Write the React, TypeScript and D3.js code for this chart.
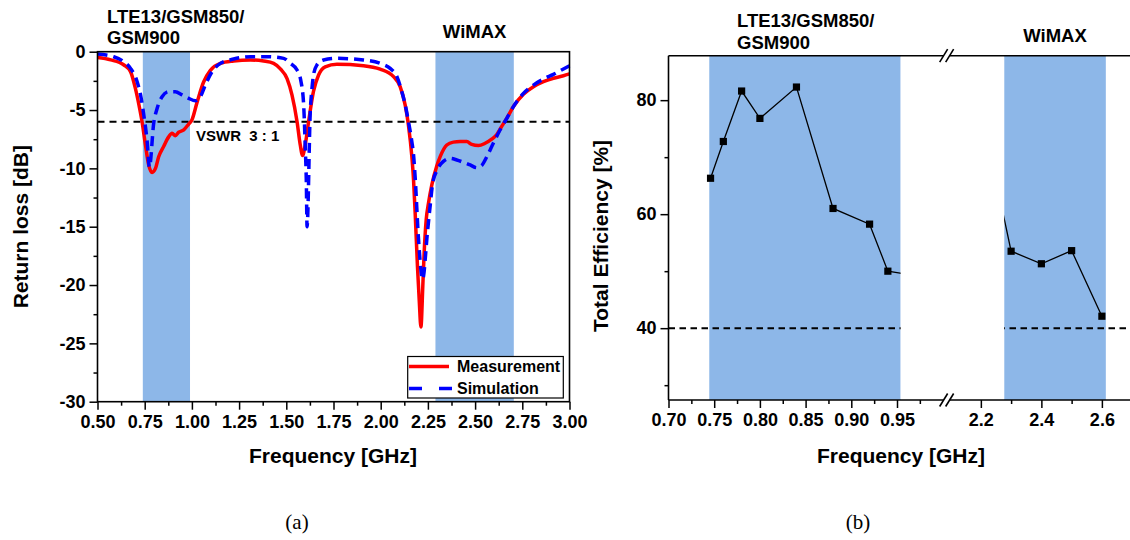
import React, { useRef, useEffect } from 'react';
import * as d3 from 'd3';

// (a) return loss, measured and simulated
const measFreq = [0.5, 0.57, 0.64, 0.675, 0.7, 0.72, 0.736, 0.754, 0.771, 0.789, 0.807, 0.824, 0.851, 0.877, 0.895, 0.912, 0.93, 0.957, 0.983, 1.0, 1.028, 1.062, 1.098, 1.151, 1.221, 1.31, 1.38, 1.433, 1.47, 1.504, 1.53, 1.557, 1.574, 1.586, 1.6, 1.618, 1.644, 1.671, 1.706, 1.768, 1.909, 1.997, 2.068, 2.103, 2.13, 2.147, 2.165, 2.174, 2.183, 2.195, 2.205, 2.213, 2.223, 2.23, 2.241, 2.253, 2.271, 2.297, 2.315, 2.35, 2.385, 2.421, 2.456, 2.482, 2.518, 2.553, 2.588, 2.615, 2.641, 2.668, 2.703, 2.756, 2.809, 2.862, 2.915, 2.968, 3.0];
const measDb = [-0.5, -0.7, -1.14, -1.71, -3.1, -4.6, -6.0, -8.0, -9.7, -10.35, -10.0, -9.0, -8.1, -7.3, -7.0, -7.2, -6.9, -6.7, -6.2, -5.85, -4.3, -2.6, -1.6, -1.0, -0.8, -0.71, -0.8, -1.0, -1.5, -2.3, -3.7, -6.0, -8.0, -8.9, -8.0, -6.0, -3.4, -2.0, -1.3, -1.08, -1.2, -1.5, -2.14, -3.0, -4.6, -6.3, -9.0, -11.0, -14.0, -18.5, -21.6, -23.6, -20.1, -17.3, -14.4, -13.0, -11.4, -9.8, -9.0, -8.0, -7.75, -7.7, -7.7, -7.95, -8.05, -7.85, -7.5, -7.1, -6.4, -5.7, -4.7, -3.65, -3.0, -2.57, -2.28, -2.06, -1.9];

const simFreq = [0.5, 0.586, 0.639, 0.675, 0.71, 0.728, 0.745, 0.763, 0.775, 0.798, 0.816, 0.842, 0.877, 0.912, 0.948, 0.983, 1.019, 1.045, 1.071, 1.107, 1.151, 1.221, 1.31, 1.398, 1.486, 1.521, 1.557, 1.578, 1.592, 1.6, 1.606, 1.61, 1.627, 1.636, 1.644, 1.662, 1.697, 1.768, 1.909, 1.997, 2.05, 2.086, 2.112, 2.13, 2.147, 2.165, 2.174, 2.183, 2.2, 2.222, 2.248, 2.262, 2.275, 2.297, 2.332, 2.368, 2.403, 2.438, 2.474, 2.509, 2.535, 2.562, 2.597, 2.632, 2.668, 2.703, 2.756, 2.809, 2.862, 2.915, 2.968, 3.0];
const simDb = [-0.2, -0.43, -0.86, -1.43, -2.57, -3.7, -5.4, -7.7, -9.9, -6.1, -4.85, -3.86, -3.43, -3.43, -3.7, -4.0, -4.2, -3.86, -2.86, -1.71, -1.0, -0.63, -0.43, -0.43, -0.57, -1.0, -1.57, -2.57, -4.57, -8.0, -11.1, -15.0, -5.14, -3.14, -2.0, -1.14, -0.71, -0.57, -0.71, -1.0, -1.43, -2.14, -3.43, -4.57, -6.0, -7.71, -8.85, -10.9, -16.0, -19.5, -15.4, -13.2, -11.3, -10.2, -9.4, -9.15, -9.28, -9.48, -9.71, -9.94, -9.75, -9.0, -7.83, -6.71, -5.71, -4.71, -3.57, -2.86, -2.34, -1.94, -1.48, -1.2];

const rlBands = [[0.74, 0.99], [2.29, 2.705]];
const vswrDb = -6;
const rlTicks = [0, -5, -10, -15, -20, -25, -30];
const rlMinor = [-2.5, -7.5, -12.5, -17.5, -22.5, -27.5];
const freqTicksA = [0.5, 0.75, 1.0, 1.25, 1.5, 1.75, 2.0, 2.25, 2.5, 2.75, 3.0];
const freqMinorA = [0.625, 0.875, 1.125, 1.375, 1.625, 1.875, 2.125, 2.375, 2.625, 2.875];

// (b) total efficiency (0.96 and 2.25 lie under the axis break)
const effFreq = [0.746, 0.76, 0.78, 0.8, 0.84, 0.88, 0.92, 0.94, 0.96, 2.25, 2.3, 2.4, 2.5, 2.6];
const effVal = [66.3, 72.75, 81.6, 76.8, 82.3, 61.0, 58.25, 50.0, 49.5, 66.0, 53.5, 51.3, 53.6, 42.1];
const effBands = [[0.7446, 0.954], [2.277, 2.613]];
const effLimit = 40;
const effTicks = [40, 60, 80];
const effMinor = [30, 50, 70];
const lowTicks = [0.7, 0.75, 0.8, 0.85, 0.9, 0.95];
const lowMinor = [0.725, 0.775, 0.825, 0.875, 0.925, 0.975];
const highTicks = [2.2, 2.4, 2.6];
const highMinor = [2.3, 2.5];

const FONT = '"Liberation Sans", Arial, sans-serif';
const BAND = '#8db7e8';

const styleAxis = (g, size) => {
  g.attr('font-family', FONT).attr('font-size', size).attr('font-weight', 'bold');
  g.selectAll('.domain').remove();
  g.selectAll('line').attr('stroke', '#000').attr('stroke-width', 1.5);
  g.selectAll('text').attr('fill', '#000');
};

const drawReturnLoss = (g) => {
  const x = d3.scaleLinear().domain([0.5, 3]).range([97.5, 569.5]);
  const y = d3.scaleLinear().domain([-30, 0]).range([401.7, 51.7]);

  rlBands.forEach(b => {
    g.append('rect')
      .attr('x', x(b[0])).attr('y', y(0))
      .attr('width', x(b[1]) - x(b[0])).attr('height', y(-30) - y(0))
      .attr('fill', BAND);
  });

  g.append('line')
    .attr('x1', x(0.5)).attr('x2', x(3))
    .attr('y1', y(vswrDb)).attr('y2', y(vswrDb))
    .attr('stroke', '#000').attr('stroke-width', 2).attr('stroke-dasharray', '7,5');

  const meas = measFreq.map((f, i) => [f, measDb[i]]);
  const sim = simFreq.map((f, i) => [f, simDb[i]]);
  const line = d3.line().x(d => x(d[0])).y(d => y(d[1])).curve(d3.curveMonotoneX);

  g.append('path').attr('d', line(meas)).attr('fill', 'none')
    .attr('stroke', '#ff0000').attr('stroke-width', 3.5).attr('stroke-linejoin', 'round');
  g.append('path').attr('d', line(sim)).attr('fill', 'none')
    .attr('stroke', '#0000ff').attr('stroke-width', 3.5).attr('stroke-dasharray', '10,6');

  // frame
  g.append('rect')
    .attr('x', x(0.5)).attr('y', y(0))
    .attr('width', x(3) - x(0.5)).attr('height', y(-30) - y(0))
    .attr('fill', 'none').attr('stroke', '#000').attr('stroke-width', 1.6);

  const xAxis = g.append('g').attr('transform', `translate(0,${y(-30)})`)
    .call(d3.axisBottom(x).tickValues(freqTicksA).tickSize(8).tickPadding(5.5).tickFormat(d3.format('.2f')));
  styleAxis(xAxis, 18);
  const xMinor = g.append('g').attr('transform', `translate(0,${y(-30)})`)
    .call(d3.axisBottom(x).tickValues(freqMinorA).tickSize(4).tickFormat(() => ''));
  styleAxis(xMinor, 18);

  const yAxis = g.append('g').attr('transform', `translate(${x(0.5)},0)`)
    .call(d3.axisLeft(y).tickValues(rlTicks).tickSize(8).tickPadding(4).tickFormat(d => String(d)));
  styleAxis(yAxis, 18);
  const yMinor = g.append('g').attr('transform', `translate(${x(0.5)},0)`)
    .call(d3.axisLeft(y).tickValues(rlMinor).tickSize(4).tickFormat(() => ''));
  styleAxis(yMinor, 18);

  // legend
  const lg = g.append('g');
  lg.append('rect').attr('x', 407.7).attr('y', 356.5).attr('width', 155.6).attr('height', 41.5)
    .attr('fill', '#fff').attr('stroke', '#000').attr('stroke-width', 1.2);
  lg.append('line').attr('x1', 409).attr('x2', 449).attr('y1', 366.5).attr('y2', 366.5)
    .attr('stroke', '#ff0000').attr('stroke-width', 3.5);
  lg.append('line').attr('x1', 409).attr('x2', 452).attr('y1', 388.5).attr('y2', 388.5)
    .attr('stroke', '#0000ff').attr('stroke-width', 3.5).attr('stroke-dasharray', '13,17');
  lg.append('text').attr('x', 457).attr('y', 372).text('Measurement');
  lg.append('text').attr('x', 457).attr('y', 393.5).text('Simulation');
  lg.selectAll('text').attr('font-family', FONT).attr('font-size', 16).attr('font-weight', 'bold');

  const txt = g.append('g').attr('font-family', FONT).attr('font-weight', 'bold').attr('fill', '#000');
  txt.append('text').attr('x', 196).attr('y', 140.7).attr('font-size', 15)
    .style('white-space', 'pre').text('VSWR  3 : 1');
  txt.append('text').attr('x', 107).attr('y', 22.7).attr('font-size', 18.5).text('LTE13/GSM850/');
  txt.append('text').attr('x', 107).attr('y', 44.3).attr('font-size', 18.5).text('GSM900');
  txt.append('text').attr('x', (x(rlBands[1][0]) + x(rlBands[1][1])) / 2).attr('y', 38.3)
    .attr('font-size', 18.5).attr('text-anchor', 'middle').text('WiMAX');
  txt.append('text').attr('x', (x(0.5) + x(3)) / 2 - 0.5).attr('y', 463.3).attr('font-size', 21)
    .attr('text-anchor', 'middle').text('Frequency [GHz]');
  txt.append('text').attr('transform', `translate(21,${(y(0) + y(-30)) / 2}) rotate(-90)`)
    .attr('dy', '0.35em').attr('font-size', 21).attr('text-anchor', 'middle').text('Return loss [dB]');
};

const drawEfficiency = (g) => {
  const xLow = d3.scaleLinear().domain([0.7, 1.0]).range([668.5, 942.7]);
  const xHigh = d3.scaleLinear().domain([2.1, 2.8]).range([950.6, 1162.4]);
  const xb = f => (f < 1.5 ? xLow(f) : xHigh(f));
  const y = d3.scaleLinear().domain([27.4, 87.8]).range([400, 55.7]);
  const right = 1130;
  const brk = (xLow(1.0) + xHigh(2.1)) / 2;

  effBands.forEach(b => {
    g.append('rect')
      .attr('x', xb(b[0])).attr('y', y(87.8))
      .attr('width', xb(b[1]) - xb(b[0])).attr('height', y(27.4) - y(87.8))
      .attr('fill', BAND);
  });

  g.append('line')
    .attr('x1', xLow(0.7)).attr('x2', right)
    .attr('y1', y(effLimit)).attr('y2', y(effLimit))
    .attr('stroke', '#000').attr('stroke-width', 2).attr('stroke-dasharray', '6.5,4.5');

  const pts = effFreq.map((f, i) => [f, effVal[i]]);
  g.append('path')
    .attr('d', d3.line().x(d => xb(d[0])).y(d => y(d[1]))(pts))
    .attr('fill', 'none').attr('stroke', '#000').attr('stroke-width', 1.3);

  // white gap between the two bands hides the part across the break
  g.append('rect')
    .attr('x', xb(effBands[0][1])).attr('y', y(87.8) + 1)
    .attr('width', xb(effBands[1][0]) - xb(effBands[0][1])).attr('height', y(27.4) - y(87.8) - 2)
    .attr('fill', '#fff');

  g.selectAll('rect.mk')
    .data(pts.filter(d => (d[0] <= 0.95 || d[0] >= 2.3)))
    .enter().append('rect')
    .attr('class', 'mk')
    .attr('x', d => xb(d[0]) - 3.6).attr('y', d => y(d[1]) - 3.6)
    .attr('width', 7.2).attr('height', 7.2).attr('fill', '#000');

  // axis lines
  const ax = g.append('g').attr('stroke', '#000').attr('stroke-width', 1.6);
  ax.append('line').attr('x1', xLow(0.7)).attr('x2', xLow(0.7)).attr('y1', y(87.8)).attr('y2', y(27.4));
  [y(87.8), y(27.4)].forEach(yy => {
    ax.append('line').attr('x1', xLow(0.7)).attr('x2', brk - 3).attr('y1', yy).attr('y2', yy);
    ax.append('line').attr('x1', brk + 3).attr('x2', right).attr('y1', yy).attr('y2', yy);
    ax.append('line').attr('x1', brk - 7).attr('x2', brk + 1).attr('y1', yy + 6.5).attr('y2', yy - 6.5);
    ax.append('line').attr('x1', brk - 1).attr('x2', brk + 7).attr('y1', yy + 6.5).attr('y2', yy - 6.5);
  });

  const base = y(27.4);
  const a1 = g.append('g').attr('transform', `translate(0,${base})`)
    .call(d3.axisBottom(xLow).tickValues(lowTicks).tickSize(8).tickPadding(5.5).tickFormat(d3.format('.2f')));
  styleAxis(a1, 18);
  const a1m = g.append('g').attr('transform', `translate(0,${base})`)
    .call(d3.axisBottom(xLow).tickValues(lowMinor).tickSize(4).tickFormat(() => ''));
  styleAxis(a1m, 18);
  const a2 = g.append('g').attr('transform', `translate(0,${base})`)
    .call(d3.axisBottom(xHigh).tickValues(highTicks).tickSize(8).tickPadding(5.5).tickFormat(d3.format('.1f')));
  styleAxis(a2, 18);
  const a2m = g.append('g').attr('transform', `translate(0,${base})`)
    .call(d3.axisBottom(xHigh).tickValues(highMinor).tickSize(4).tickFormat(() => ''));
  styleAxis(a2m, 18);

  const ya = g.append('g').attr('transform', `translate(${xLow(0.7)},0)`)
    .call(d3.axisLeft(y).tickValues(effTicks).tickSize(8).tickPadding(4).tickFormat(d => String(d)));
  styleAxis(ya, 18);
  const ym = g.append('g').attr('transform', `translate(${xLow(0.7)},0)`)
    .call(d3.axisLeft(y).tickValues(effMinor).tickSize(4).tickFormat(() => ''));
  styleAxis(ym, 18);

  const txt = g.append('g').attr('font-family', FONT).attr('font-weight', 'bold').attr('fill', '#000');
  txt.append('text').attr('x', 737).attr('y', 26.7).attr('font-size', 18.5).text('LTE13/GSM850/');
  txt.append('text').attr('x', 737).attr('y', 49).attr('font-size', 18.5).text('GSM900');
  txt.append('text').attr('x', (xb(effBands[1][0]) + xb(effBands[1][1])) / 2).attr('y', 41.7)
    .attr('font-size', 18.5).attr('text-anchor', 'middle').text('WiMAX');
  txt.append('text').attr('x', 901).attr('y', 463.3).attr('font-size', 21)
    .attr('text-anchor', 'middle').text('Frequency [GHz]');
  txt.append('text').attr('transform', `translate(601,236) rotate(-90)`)
    .attr('dy', '0.35em').attr('font-size', 21).attr('text-anchor', 'middle').text('Total Efficiency [%]');
};

const App = () => {
  const svgRef = useRef(null);

  useEffect(() => {
    const svg = d3.select(svgRef.current);
    svg.selectAll('*').remove();

    drawReturnLoss(svg.append('g'));
    drawEfficiency(svg.append('g'));

    const cap = svg.append('g')
      .attr('font-family', '"Liberation Serif", "Times New Roman", serif')
      .attr('font-size', 21).attr('text-anchor', 'middle').attr('fill', '#000');
    cap.append('text').attr('x', 297).attr('y', 529).text('(a)');
    cap.append('text').attr('x', 858).attr('y', 529).text('(b)');
  }, []);

  return (
    <svg ref={svgRef} width={1130} height={540}
      style={{ position: 'absolute', left: 0, top: 0, background: '#fff' }} />
  );
};

export default App;
